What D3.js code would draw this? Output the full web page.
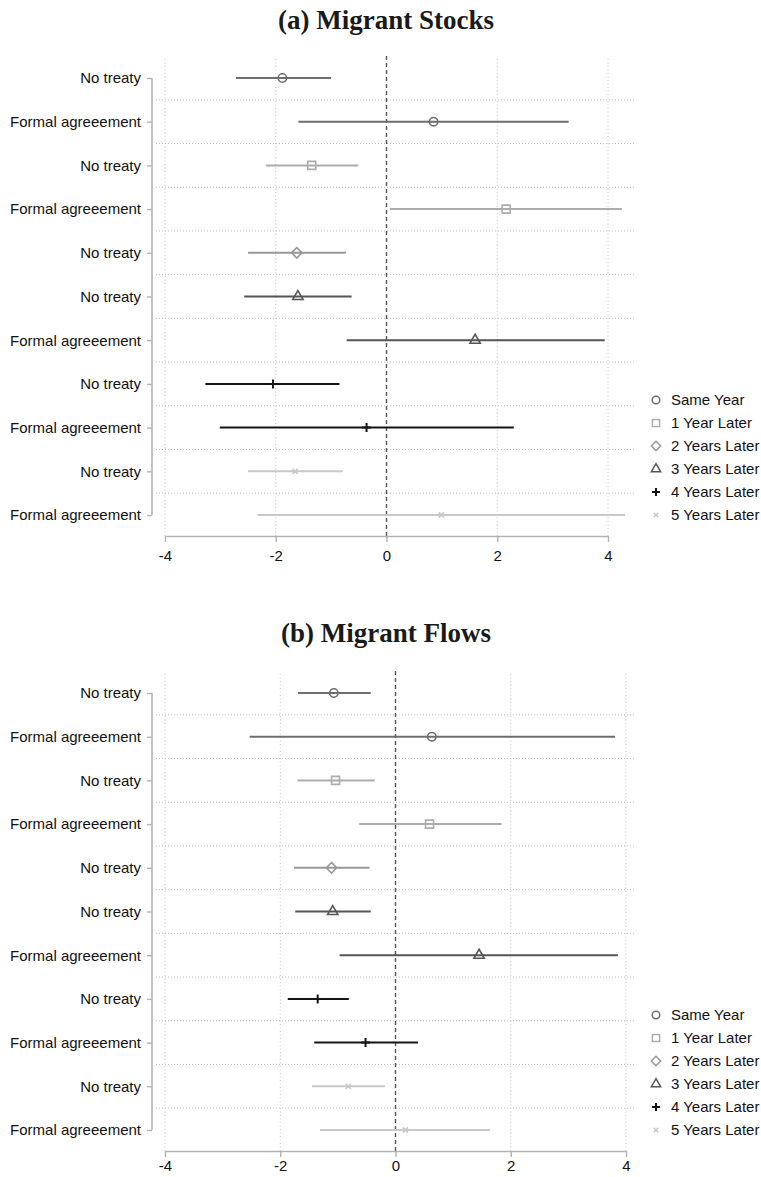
<!DOCTYPE html>
<html>
<head>
<meta charset="utf-8">
<script src="https://cdn.jsdelivr.net/npm/d3@7"></script>
<style>
  body { margin: 0; background: #fff; }
  text { font-family: "Liberation Sans", Arial, sans-serif; }
</style>
</head>
<body>
<div id="chart"></div>
<script>
// categorias de las filas (de arriba a abajo)
var rowLabels = ["No treaty", "Formal agreeement", "No treaty", "Formal agreeement", "No treaty",
                 "No treaty", "Formal agreeement", "No treaty", "Formal agreeement", "No treaty", "Formal agreeement"];
// a que serie pertenece cada fila
var rowSeries = [0, 0, 1, 1, 2, 3, 3, 4, 4, 5, 5];
var seriesNames = ["Same Year", "1 Year Later", "2 Years Later", "3 Years Later", "4 Years Later", "5 Years Later"];
var xTicks = [-4, -2, 0, 2, 4];

// (a) Migrant Stocks
var stocksEst = [-1.88, 0.85, -1.35, 2.16, -1.62, -1.60, 1.60, -2.05, -0.36, -1.65, 0.99];
var stocksLo  = [-2.72, -1.59, -2.18, 0.06, -2.50, -2.57, -0.72, -3.27, -3.01, -2.50, -2.33];
var stocksHi  = [-1.00, 3.29, -0.51, 4.25, -0.73, -0.63, 3.94, -0.85, 2.30, -0.79, 4.31];

// (b) Migrant Flows
var flowsEst = [-1.07, 0.63, -1.04, 0.59, -1.11, -1.09, 1.45, -1.35, -0.52, -0.82, 0.17];
var flowsLo  = [-1.69, -2.53, -1.70, -0.63, -1.76, -1.74, -0.97, -1.87, -1.41, -1.45, -1.31];
var flowsHi  = [-0.43, 3.81, -0.36, 1.84, -0.45, -0.43, 3.86, -0.81, 0.39, -0.18, 1.64];

// estilos por serie
var colors = ["#6e6e6e", "#acacac", "#979797", "#555555", "#141414", "#c8c8c8"];

function markerPath(s, k) {
  k = k || 1;
  var r;
  if (s == 0) return d3.symbol().type(d3.symbolCircle).size(56 * k * k)();
  if (s == 1) return d3.symbol().type(d3.symbolSquare).size(64 * k * k)();
  if (s == 2) { r = 5.2 * k; return "M0," + (-r) + "L" + r + ",0L0," + r + "L" + (-r) + ",0Z"; }
  if (s == 3) return d3.symbol().type(d3.symbolTriangle).size(46 * k * k)();
  if (s == 4) { r = 4.5 * k; return "M" + (-r) + ",0H" + r + "M0," + (-r) + "V" + r; }
  r = 2.6 * k;
  return "M" + (-r) + "," + (-r) + "L" + r + "," + r + "M" + (-r) + "," + r + "L" + r + "," + (-r);
}

var W = 761, H = 1177;
var svg = d3.select("#chart").append("svg")
  .attr("width", W).attr("height", H);

function drawPanel(cfg) {
  var g = svg.append("g");

  var x = d3.scaleLinear().domain([-4, 4]).range([165, cfg.xMax]);
  var y = d3.scalePoint().domain(d3.range(rowLabels.length)).range([cfg.rowTop, cfg.rowBottom]);
  var step = y.step();

  // titulo
  g.append("text")
    .attr("x", 386).attr("y", cfg.titleY)
    .attr("text-anchor", "middle")
    .style("font-family", "'Liberation Serif', 'Times New Roman', serif")
    .style("font-weight", "bold")
    .style("font-size", "27px")
    .attr("fill", "#1a1a1a")
    .text(cfg.title);

  // rejilla horizontal (entre filas)
  g.selectAll(".hgrid").data(d3.range(rowLabels.length - 1)).enter().append("line")
    .attr("x1", 156).attr("x2", 636)
    .attr("y1", function(d) { return y(d) + step / 2; })
    .attr("y2", function(d) { return y(d) + step / 2; })
    .attr("stroke", "#bdbdbd").attr("stroke-width", 1)
    .attr("stroke-dasharray", "1,2");

  // rejilla vertical
  g.selectAll(".vgrid").data(xTicks.filter(function(d) { return d != 0; })).enter().append("line")
    .attr("x1", function(d) { return x(d); }).attr("x2", function(d) { return x(d); })
    .attr("y1", cfg.gridTop).attr("y2", cfg.axisY)
    .attr("stroke", "#c4c4c4").attr("stroke-width", 1)
    .attr("stroke-dasharray", "1,2.5");

  // linea en cero
  g.append("line")
    .attr("x1", x(0)).attr("x2", x(0))
    .attr("y1", cfg.gridTop - 3).attr("y2", cfg.axisY)
    .attr("stroke", "#555").attr("stroke-width", 1.4)
    .attr("stroke-dasharray", "4,3");

  // eje y
  var yAxis = g.append("g")
    .attr("transform", "translate(152,0)")
    .call(d3.axisLeft(y).tickSize(5).tickPadding(6).tickFormat(function(i) { return rowLabels[i]; }));
  yAxis.select(".domain").attr("stroke", "#b3b3b3").attr("stroke-width", 1.6)
    .attr("d", "M0," + y(0) + "V" + y(rowLabels.length - 1));
  yAxis.selectAll(".tick line").attr("stroke", "#b3b3b3").attr("stroke-width", 1.4);
  yAxis.selectAll(".tick text").attr("fill", "#111").style("font-size", "15px")
    .style("font-family", "'Liberation Sans', Arial, sans-serif");

  // eje x
  var xAxis = g.append("g")
    .attr("transform", "translate(0," + cfg.axisY + ")")
    .call(d3.axisBottom(x).tickValues(xTicks).tickSize(6).tickPadding(cfg.tickPad).tickSizeOuter(0)
      .tickFormat(function(d) { return String(d); }));
  xAxis.select(".domain").attr("stroke", "#b3b3b3").attr("stroke-width", 1.6);
  xAxis.selectAll(".tick line").attr("stroke", "#b3b3b3").attr("stroke-width", 1.4);
  xAxis.selectAll(".tick text").attr("fill", "#111").style("font-size", "15px")
    .style("font-family", "'Liberation Sans', Arial, sans-serif");

  // intervalos de confianza
  g.selectAll(".ci").data(d3.range(rowLabels.length)).enter().append("line")
    .attr("x1", function(i) { return x(cfg.lo[i]); })
    .attr("x2", function(i) { return x(cfg.hi[i]); })
    .attr("y1", function(i) { return y(i); })
    .attr("y2", function(i) { return y(i); })
    .attr("stroke", function(i) { return colors[rowSeries[i]]; })
    .attr("stroke-width", 2);

  // puntos
  g.selectAll(".pt").data(d3.range(rowLabels.length)).enter().append("path")
    .attr("transform", function(i) { return "translate(" + x(cfg.est[i]) + "," + y(i) + ")"; })
    .attr("d", function(i) { return markerPath(rowSeries[i]); })
    .attr("fill", "none")
    .attr("stroke", function(i) { return colors[rowSeries[i]]; })
    .attr("stroke-width", function(i) { return rowSeries[i] == 4 ? 2 : 1.6; });

  // leyenda
  var leg = g.selectAll(".leg").data(seriesNames).enter().append("g")
    .attr("transform", function(d, i) { return "translate(656," + (cfg.legTop + i * cfg.legStep) + ")"; });
  leg.append("path")
    .attr("d", function(d, i) { return markerPath(i, 0.9); })
    .attr("fill", "none")
    .attr("stroke", function(d, i) { return colors[i]; })
    .attr("stroke-width", function(d, i) { return i == 4 ? 2 : 1.5; });
  leg.append("text")
    .attr("x", 15).attr("dy", "0.35em")
    .attr("fill", "#111").style("font-size", "15px")
    .text(function(d) { return d; });
}

drawPanel({
  title: "(a) Migrant Stocks", titleY: 29,
  est: stocksEst, lo: stocksLo, hi: stocksHi,
  xMax: 608, rowTop: 78, rowBottom: 515, gridTop: 59, axisY: 536, tickPad: 8,
  legTop: 400, legStep: 23
});

drawPanel({
  title: "(b) Migrant Flows", titleY: 642,
  est: flowsEst, lo: flowsLo, hi: flowsHi,
  xMax: 626, rowTop: 693, rowBottom: 1130, gridTop: 674, axisY: 1151, tickPad: 3,
  legTop: 1015, legStep: 23
});
</script>
</body>
</html>
